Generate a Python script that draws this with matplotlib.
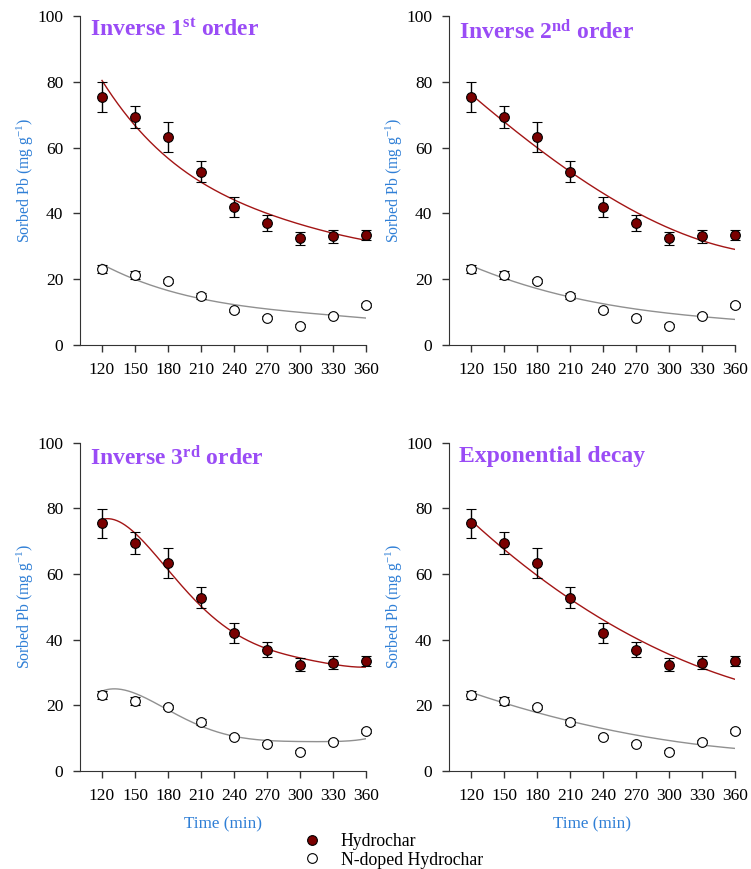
import matplotlib
matplotlib.use('Agg')
import matplotlib.pyplot as plt
from matplotlib.lines import Line2D
import numpy as np

plt.rcParams['font.family'] = ['Liberation Serif', 'DejaVu Serif']
plt.rcParams['mathtext.fontset'] = 'custom'
plt.rcParams['mathtext.rm'] = 'Liberation Serif'
plt.rcParams['mathtext.bf'] = 'Liberation Serif:bold'
plt.rcParams['mathtext.it'] = 'Liberation Serif:italic'

# measured data
time = [120, 150, 180, 210, 240, 270, 300, 330, 360]
hydrochar = [75.4, 69.4, 63.3, 52.7, 42.0, 37.0, 32.4, 33.0, 33.5]
hydrochar_err = [4.5, 3.3, 4.5, 3.2, 3.0, 2.4, 2.0, 1.9, 1.6]
ndoped = [23.2, 21.3, 19.4, 14.9, 10.5, 8.3, 5.9, 8.9, 12.1]
ndoped_err = [1.2, 1.3, 0.6, 0.8, 0.5, 0.5, 0.5, 0.5, 0.6]

# model curves
titles = ['Inverse 1$^{\\mathbf{st}}$ order', 'Inverse 2$^{\\mathbf{nd}}$ order',
          'Inverse 3$^{\\mathbf{rd}}$ order', 'Exponential decay']
fit_time = [120, 130, 150, 180, 210, 240, 270, 300, 330, 360]
fit_hydro = [
    [80.5, 75.3, 66.5, 57.0, 49.5, 44.0, 40.0, 36.7, 34.0, 31.8],
    [76.0, 73.3, 68.0, 60.5, 52.5, 45.5, 40.3, 35.8, 32.0, 28.8],
    [76.4, 76.9, 72.6, 60.7, 50.6, 42.2, 37.0, 34.4, 32.6, 31.6],
    [76.0, 73.3, 68.0, 59.5, 52.0, 46.0, 40.5, 35.5, 31.5, 27.8],
]
fit_ndoped = [
    [24.5, 22.9, 20.0, 16.5, 14.0, 12.3, 11.0, 9.9, 9.0, 8.2],
    [24.0, 22.8, 20.5, 17.0, 14.5, 12.5, 11.0, 9.7, 8.5, 7.8],
    [24.3, 25.0, 23.8, 18.4, 13.7, 10.7, 9.3, 8.8, 9.1, 9.8],
    [23.8, 22.8, 21.0, 17.8, 15.0, 12.8, 11.0, 9.3, 8.0, 6.8],
]
fit_degree = [4, 3, 5, 3]

blue = '#2f7fd6'
purple = '#9a4cf6'
maroon = '#7a0000'

fig = plt.figure(figsize=(7.51, 8.69), dpi=100)
positions = [
    [0.1065, 0.603, 0.381, 0.3786],
    [0.598, 0.603, 0.381, 0.3786],
    [0.1065, 0.1128, 0.381, 0.3778],
    [0.598, 0.1128, 0.381, 0.3778],
]

tt = np.linspace(120, 360, 300)
for i, pos in enumerate(positions):
    ax = fig.add_axes(pos)
    ph = np.polyfit(fit_time, fit_hydro[i], fit_degree[i])
    pn = np.polyfit(fit_time, fit_ndoped[i], fit_degree[i])
    ax.plot(tt, np.polyval(ph, tt), color='#a31515', lw=1.0, zorder=2)
    ax.plot(tt, np.polyval(pn, tt), color='#909090', lw=1.0, zorder=2)
    ax.errorbar(time, hydrochar, yerr=hydrochar_err, fmt='o', color='black',
                mfc=maroon, mec='black', mew=0.8, ms=7, capsize=3.8,
                elinewidth=1.0, capthick=1.0, zorder=3, clip_on=False)
    ax.errorbar(time, ndoped, yerr=ndoped_err, fmt='o', color='black',
                mfc='white', mec='black', mew=0.8, ms=7, capsize=3.8,
                elinewidth=1.0, capthick=1.0, zorder=3, clip_on=False)
    ax.set_xlim(100, 360)
    ax.set_ylim(0, 100)
    ax.set_xticks(time)
    ax.set_yticks([0, 20, 40, 60, 80, 100])
    for s in ['top', 'right']:
        ax.spines[s].set_visible(False)
    for s in ['left', 'bottom']:
        ax.spines[s].set_color('#333333')
    ax.tick_params(direction='out', length=5, width=1, color='#333333',
                   labelsize=12.5, pad=7)
    ax.set_ylabel('Sorbed Pb (mg g$^{-1}$)', color=blue, fontsize=11.3, labelpad=1)
    if i >= 2:
        ax.set_xlabel('Time (min)', color=blue, fontsize=12.3, labelpad=9)
    ax.text(0.035, 0.99, titles[i], transform=ax.transAxes, color=purple,
            fontsize=17, fontweight='bold', va='top', ha='left')

handles = [
    Line2D([], [], marker='o', ls='none', mfc=maroon, mec='black', ms=7, mew=0.8),
    Line2D([], [], marker='o', ls='none', mfc='white', mec='black', ms=7, mew=0.8),
]
fig.legend(handles, ['Hydrochar', 'N-doped Hydrochar'], loc='center left',
           bbox_to_anchor=(0.371, 0.021), frameon=False, fontsize=12.8,
           handletextpad=0.6, labelspacing=0.1)

fig.savefig('out.png', dpi=100)
